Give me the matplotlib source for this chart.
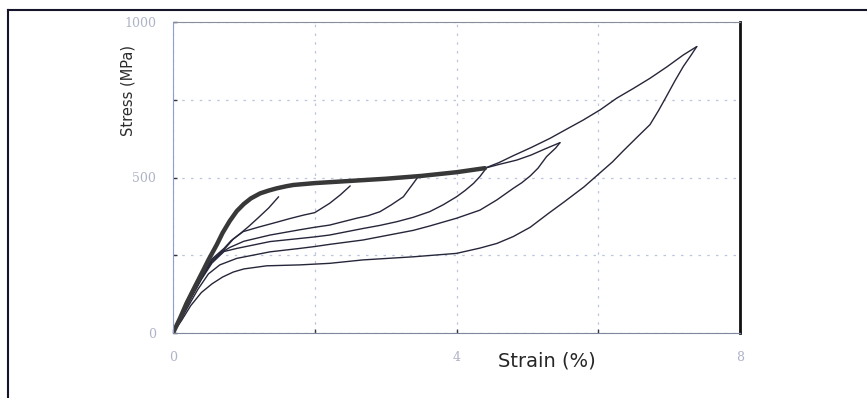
import matplotlib
matplotlib.use("Agg")
import matplotlib.pyplot as plt
from matplotlib.lines import Line2D

# ---- data (strain %, stress MPa) ----
load_strain = [0, 0.1, 0.19, 0.3, 0.43, 0.5, 0.62, 0.7, 0.8, 0.9, 1.0, 1.1, 1.23, 1.35, 1.46, 1.6, 1.7,
               2.0, 2.5, 3.0, 3.5, 4.0, 4.4]
load_stress = [0, 48, 95, 145, 203, 235, 285, 322, 360, 392, 415, 433, 449, 458, 465, 472, 476,
               482, 489, 496, 505, 517, 530]

load5_strain = [4.4, 4.6, 4.85, 5.05, 5.25, 5.46]
load5_stress = [530, 542, 556, 572, 592, 612]

load6_strain = [4.4, 4.6, 4.8, 5.05, 5.32, 5.55, 5.79, 6.03, 6.26, 6.5, 6.73, 6.97, 7.2, 7.39]
load6_stress = [530, 548, 570, 596, 626, 655, 685, 718, 755, 787, 819, 856, 894, 921]

unl1_strain = [1.49, 1.35, 1.2, 1.07, 0.95, 0.82, 0.72, 0.55, 0.4, 0.25, 0.1, 0]
unl1_stress = [438, 402, 370, 343, 320, 297, 272, 238, 182, 118, 47, 0]

unl2_strain = [2.5, 2.36, 2.21, 2.0, 1.84, 1.65, 1.46, 1.2, 0.99, 0.85, 0.72, 0.55, 0.4, 0.25, 0.1, 0]
unl2_stress = [473, 444, 417, 387, 379, 368, 356, 340, 326, 302, 268, 234, 178, 114, 45, 0]

unl3_strain = [3.46, 3.39, 3.25, 3.08, 2.92, 2.75, 2.59, 2.4, 2.21, 2.0, 1.79, 1.37, 1.0, 0.8, 0.72,
               0.55, 0.4, 0.25, 0.1, 0]
unl3_stress = [503, 481, 438, 412, 390, 377, 369, 358, 347, 340, 332, 315, 295, 275, 264,
               230, 175, 112, 44, 0]

unl4_strain = [4.42, 4.33, 4.24, 4.12, 4.0, 3.81, 3.62, 3.39, 3.16, 2.92, 2.68, 2.21, 2.0, 1.79, 1.37,
               0.9, 0.72, 0.55, 0.4, 0.25, 0.1, 0]
unl4_stress = [530, 503, 481, 458, 438, 412, 390, 372, 358, 346, 336, 315, 309, 304, 294,
               272, 262, 225, 172, 110, 43, 0]

unl5_strain = [5.46, 5.4, 5.27, 5.15, 5.04, 4.92, 4.8, 4.57, 4.33, 4.0, 3.62, 3.39, 3.0, 2.68, 2.21,
               2.0, 1.79, 1.37, 0.9, 0.66, 0.5, 0.35, 0.2, 0.08, 0]
unl5_stress = [612, 595, 567, 530, 505, 483, 465, 428, 395, 369, 344, 330, 313, 299, 285,
               278, 272, 261, 240, 219, 190, 140, 80, 30, 0]

unl6_strain = [7.39, 7.3, 7.2, 7.08, 6.96, 6.85, 6.73, 6.55, 6.35, 6.2, 6.02, 5.8, 5.51, 5.3, 5.04,
               4.8, 4.57, 4.33, 4.0, 3.39, 2.68, 2.21, 1.79, 1.32, 1.0, 0.85, 0.7, 0.55, 0.4,
               0.25, 0.12, 0]
unl6_stress = [921, 890, 857, 810, 760, 715, 670, 630, 585, 550, 514, 470, 420, 385, 340,
               310, 288, 273, 256, 245, 235, 224, 219, 216, 206, 196, 180, 158, 130,
               88, 40, 0]

x_ticks = [0, 2, 4, 6, 8]
x_labels = ["0", "", "4", "", "8"]
y_ticks = [0, 250, 500, 750, 1000]
y_labels = ["0", "", "500", "", "1000"]

# ---- figure ----
W, H = 867, 398
fig = plt.figure(figsize=(W / 100, H / 100), dpi=100)
fig.patch.set_facecolor("white")

ax = fig.add_axes([173 / W, 1 - 333 / H, (740 - 173) / W, (333 - 22) / H])
ax.set_xlim(0, 8)
ax.set_ylim(0, 1000)

grid_col = "#bcc5de"
ax.set_xticks(x_ticks)
ax.set_xticklabels(x_labels)
ax.set_yticks(y_ticks)
ax.set_yticklabels(y_labels)
ax.grid(True, color=grid_col, linestyle=(0, (2, 5)), linewidth=0.9)
ax.tick_params(direction="in", length=3, width=1, color="#333344",
               labelcolor="#aeb4c6", labelsize=9)
ax.tick_params(axis="x", pad=13)
ax.tick_params(axis="y", pad=12)
for lab in ax.get_xticklabels() + ax.get_yticklabels():
    lab.set_family("DejaVu Serif")

ax.spines["top"].set_color("#8a8f9c")
ax.spines["top"].set_linestyle((0, (1, 1)))
ax.spines["left"].set_color("#8fa0d0")
ax.spines["left"].set_linestyle((0, (1, 1)))
ax.spines["bottom"].set_color("#7f889c")
ax.spines["bottom"].set_linestyle((0, (1, 1)))
ax.spines["right"].set_color("#111111")
ax.spines["right"].set_linewidth(2.0)

thin = dict(color="#26263a", linewidth=1.0, solid_capstyle="round", solid_joinstyle="round")
for sx, sy in [(unl1_strain, unl1_stress), (unl2_strain, unl2_stress),
               (unl3_strain, unl3_stress), (unl4_strain, unl4_stress),
               (unl5_strain, unl5_stress), (unl6_strain, unl6_stress),
               (load5_strain, load5_stress), (load6_strain, load6_stress)]:
    ax.plot(sx, sy, **thin)

ax.plot(load_strain, load_stress, color="#383838", linewidth=3.2,
        solid_capstyle="round", solid_joinstyle="round")

fig.text(547 / W, 1 - 361 / H, "Strain (%)", ha="center", va="center",
         fontsize=14, color="#262626", family="DejaVu Sans")
fig.text(128 / W, 1 - 91 / H, "Stress (MPa)", rotation=90, ha="center", va="center",
         fontsize=10.5, color="#2b2b2b", family="DejaVu Sans")

# outer frame lines
fig.add_artist(Line2D([8 / W, 866 / W], [1 - 10 / H, 1 - 10 / H], transform=fig.transFigure,
                      color="#14142a", linewidth=1.5))
fig.add_artist(Line2D([8 / W, 8 / W], [1 - 10 / H, 0], transform=fig.transFigure,
                      color="#14142a", linewidth=1.5))

fig.savefig("out.png", dpi=100)
